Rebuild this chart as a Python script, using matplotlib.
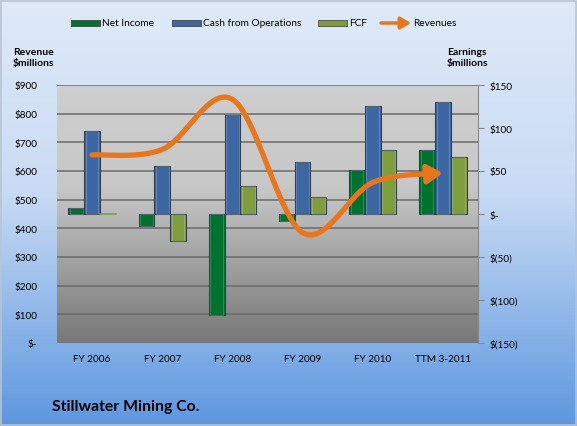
import numpy as np
import matplotlib
matplotlib.use("Agg")
import matplotlib.pyplot as plt
from matplotlib.patches import Rectangle

plt.rcParams['font.family'] = ['Lato', 'DejaVu Sans']

categories = ["FY 2006", "FY 2007", "FY 2008", "FY 2009", "FY 2010", "TTM 3-2011"]
net_income = [7, -14, -117, -8, 51, 74]
cash_ops = [97, 56, 115, 60, 126, 130]
fcf = [-1, -31, 32, 20, 74, 66]
revenues = [656, 675, 850, 385, 560, 593]

left_ticks = [0, 100, 200, 300, 400, 500, 600, 700, 800, 900]
left_labels = ["$-", "$100", "$200", "$300", "$400", "$500", "$600", "$700", "$800", "$900"]
right_ticks = [-150, -100, -50, 0, 50, 100, 150]
right_labels = ["$(150)", "$(100)", "$(50)", "$-", "$50", "$100", "$150"]

c_ni = "#00712f"
c_cash = "#3d67a3"
c_fcf = "#7f9d3e"
c_rev = "#e8761e"

W, H = 577, 427
fig = plt.figure(figsize=(W / 100, H / 100), dpi=100)

# figure background gradient
bg = fig.add_axes([0, 0, 1, 1], zorder=-10)
grad = np.linspace(0, 1, 256)
top = np.array([0xe0, 0xea, 0xf8]) / 255
mid = np.array([0xc9, 0xdb, 0xf4]) / 255
bot = np.array([0x5d, 0x97, 0xdf]) / 255
cols = []
for t in grad:
    if t < 0.45:
        c = top + (mid - top) * (t / 0.45)
    else:
        c = mid + (bot - mid) * ((t - 0.45) / 0.55)
    cols.append(c)
img = np.array(cols).reshape(-1, 1, 3)
bg.imshow(img, aspect='auto', extent=[0, 1, 0, 1], origin='upper')
bg.add_patch(Rectangle((0.002, 0.002), 0.996, 0.994, fill=False, ec="#b8c4d2", lw=1.2))
bg.set_xlim(0, 1); bg.set_ylim(0, 1)
bg.axis('off')

ax = fig.add_axes([57 / W, 1 - 344 / H, 421 / W, 258 / H])
ax.set_xlim(0, 6)
ax.set_ylim(-150, 150)

# plot area gradient
g = np.linspace(0, 1, 256)
ptop = np.array([0.81, 0.81, 0.81])
pmid = np.array([0.78, 0.78, 0.78])
pbot = np.array([0.47, 0.47, 0.47])
pc = []
for t in g:
    if t < 0.4:
        c = ptop + (pmid - ptop) * (t / 0.4)
    else:
        c = pmid + (pbot - pmid) * ((t - 0.4) / 0.6)
    pc.append(c)
pimg = np.array(pc).reshape(-1, 1, 3)
ax.imshow(pimg, aspect='auto', extent=[0, 6, -150, 150], origin='upper', zorder=0)

# gridlines at revenue ticks
for r in left_ticks[1:]:
    ye = -150 + r * 300 / 900
    ax.axhline(ye, color="#6a6a6a", lw=1.1, zorder=1)

x = np.arange(len(categories)) + 0.5
bw = 0.225
for vals, off, col in [(net_income, -bw, c_ni), (cash_ops, 0, c_cash), (fcf, bw, c_fcf)]:
    for xi, v in zip(x, vals):
        if abs(v) < 1.5:
            ax.plot([xi + off - bw / 2, xi + off + bw / 2], [0, 0], color=col, lw=1.2, zorder=3)
            continue
        ax.bar(xi + off, v, width=bw, color=col, edgecolor="#2f3f4f", linewidth=0.8, zorder=3)
        ax.bar(xi + off, v, width=bw * 0.8, bottom=0, color='none',
               edgecolor=(1, 1, 1, 0.18), linewidth=0.8, zorder=3)

ax.set_xticks(x)
ax.set_xticklabels(categories)
ax.tick_params(axis='x', which='both', length=0, pad=8, labelsize=7.2, colors='black')
for s in ax.spines.values():
    s.set_visible(False)

axr = ax.twinx()
axr.set_ylim(0, 900)
for s in axr.spines.values():
    s.set_visible(False)

# right axis: earnings
ax.yaxis.tick_right()
ax.yaxis.set_label_position('right')
ax.set_yticks(right_ticks)
ax.set_yticklabels(right_labels)
ax.tick_params(axis='y', left=False, labelleft=False, right=True, labelright=True,
               length=4, pad=4, labelsize=7.2, color="#888888")
ax.spines['right'].set_visible(True)
ax.spines['right'].set_color("#888888")

# left axis: revenue
axr.yaxis.tick_left()
axr.set_yticks(left_ticks)
axr.set_yticklabels(left_labels)
axr.tick_params(axis='y', right=False, labelright=False, left=True, labelleft=True,
                length=0, pad=14, labelsize=7.2)

# smoothed revenue line (Bezier smoothing through data points)
P = np.column_stack([x, revenues]).astype(float)
n = len(P)
pts = []
for i in range(n - 1):
    p0 = P[i - 1] if i > 0 else P[i]
    p1 = P[i]
    p2 = P[i + 1]
    p3 = P[i + 2] if i + 2 < n else P[i + 1]
    c1 = p1 + (p2 - p0) / 6
    c2 = p2 - (p3 - p1) / 6
    t = np.linspace(0, 1, 40)[:, None]
    seg = (1 - t) ** 3 * p1 + 3 * (1 - t) ** 2 * t * c1 + 3 * (1 - t) * t ** 2 * c2 + t ** 3 * p2
    pts.append(seg if i == 0 else seg[1:])
curve = np.vstack(pts)
cut = len(curve) - 6
axr.plot(curve[:cut, 0], curve[:cut, 1], color=c_rev, lw=3.8, solid_capstyle='round', zorder=5)
axr.annotate('', xy=curve[-1], xytext=curve[cut - 2],
             arrowprops=dict(arrowstyle='-|>,head_length=0.9,head_width=0.55', color=c_rev,
                             lw=3.8, shrinkA=0, shrinkB=0))

# axis titles
fig.text(13 / W, 1 - 58 / H, "Revenue\n$millions", fontsize=7.5, fontweight='bold',
         ha='left', va='center', linespacing=1.3)
fig.text(467 / W, 1 - 58 / H, "Earnings\n$millions", fontsize=7.5, fontweight='bold',
         ha='center', va='center', linespacing=1.3)

# legend
ly = 1 - 24 / H
items = [(71, c_ni, "Net Income"), (172, c_cash, "Cash from Operations"), (318, c_fcf, "FCF")]
for px, col, lab in items:
    bg.add_patch(Rectangle((px / W, ly - 3 / H), 29 / W, 6 / H, color=col, ec="#333333", lw=0.5))
    bg.text((px + 31) / W, ly, lab, fontsize=7.3, ha='left', va='center')
bg.annotate('', xy=(411 / W, ly), xytext=(381 / W, ly), xycoords='axes fraction',
            arrowprops=dict(arrowstyle='-|>,head_length=0.6,head_width=0.35', color=c_rev,
                            lw=2.5, shrinkA=0, shrinkB=0))
bg.text(413 / W, ly, "Revenues", fontsize=7.3, ha='left', va='center')

# title
fig.text(52 / W, 1 - 407 / H, "Stillwater Mining Co.", fontsize=11.3, fontweight='bold',
         ha='left', va='center')

fig.savefig("out.png", dpi=100)
